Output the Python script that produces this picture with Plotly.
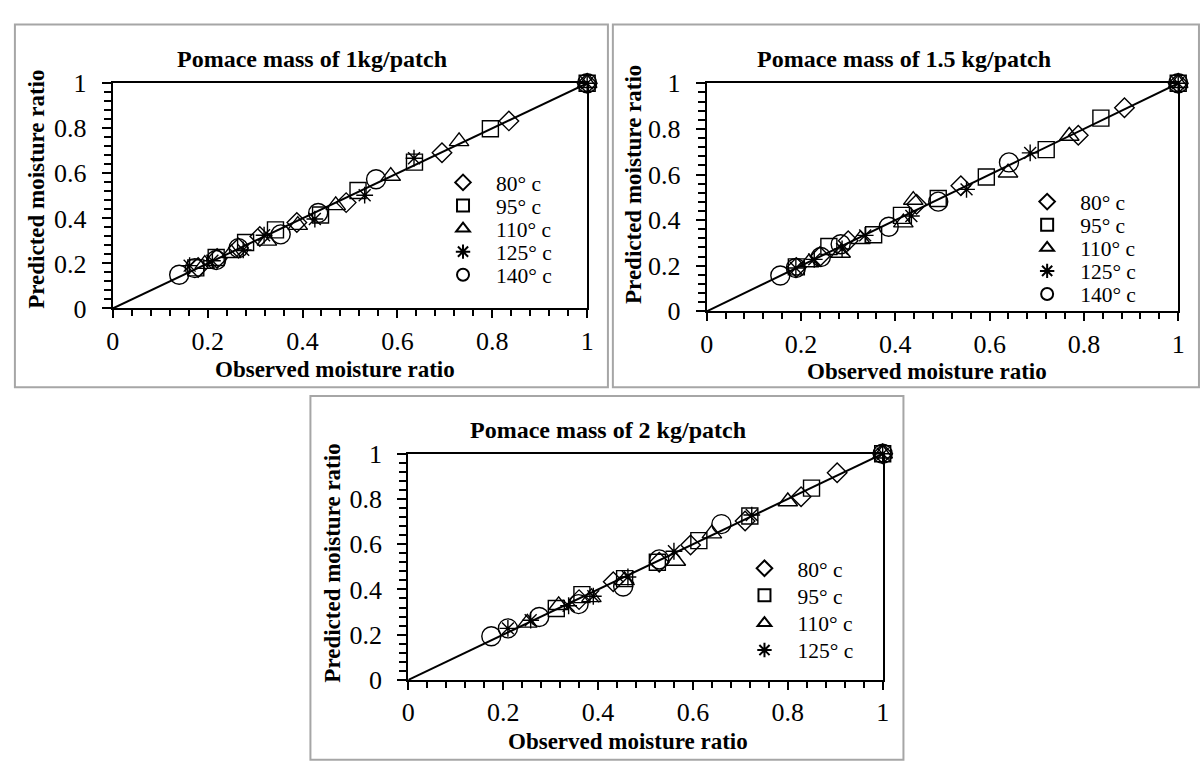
import plotly.graph_objects as go

# ---------------- data ----------------
temps = ["80° c", "95° c", "110° c", "125° c", "140° c"]
panel_titles = ["Pomace mass of 1kg/patch", "Pomace mass of 1.5 kg/patch", "Pomace mass of 2 kg/patch"]
x_title = "Observed moisture ratio"
y_title = "Predicted moisture ratio"
tick_vals = [0, 0.2, 0.4, 0.6, 0.8, 1]
tick_text = ["0", "0.2", "0.4", "0.6", "0.8", "1"]

fit_x = [0, 1]
fit_y = [0, 1]

# 1 kg/patch
obs_1kg_80 = [1.0, 0.835, 0.694, 0.492, 0.388, 0.31, 0.265, 0.22, 0.18]
pred_1kg_80 = [1.0, 0.833, 0.691, 0.47, 0.382, 0.32, 0.268, 0.222, 0.182]
obs_1kg_95 = [1.0, 0.796, 0.636, 0.517, 0.438, 0.343, 0.28, 0.218, 0.175]
pred_1kg_95 = [1.0, 0.798, 0.65, 0.524, 0.415, 0.349, 0.293, 0.226, 0.18]
obs_1kg_110 = [1.0, 0.73, 0.586, 0.47, 0.39, 0.325, 0.25, 0.194]
pred_1kg_110 = [1.0, 0.742, 0.588, 0.458, 0.37, 0.30, 0.245, 0.197]
obs_1kg_125 = [1.0, 0.635, 0.531, 0.426, 0.319, 0.275, 0.21, 0.162]
pred_1kg_125 = [1.0, 0.667, 0.503, 0.397, 0.325, 0.26, 0.212, 0.19]
obs_1kg_140 = [1.0, 0.555, 0.433, 0.354, 0.265, 0.218, 0.173, 0.140]
pred_1kg_140 = [1.0, 0.574, 0.424, 0.329, 0.268, 0.215, 0.179, 0.150]

# 1.5 kg/patch
obs_15kg_80 = [1.0, 0.886, 0.788, 0.539, 0.445, 0.30, 0.24, 0.19]
pred_15kg_80 = [1.0, 0.893, 0.772, 0.551, 0.47, 0.31, 0.24, 0.192]
obs_15kg_95 = [1.0, 0.836, 0.72, 0.593, 0.491, 0.413, 0.354, 0.259, 0.19]
pred_15kg_95 = [1.0, 0.847, 0.709, 0.589, 0.495, 0.421, 0.336, 0.284, 0.195]
obs_15kg_110 = [1.0, 0.769, 0.639, 0.438, 0.417, 0.326, 0.284, 0.217]
pred_15kg_110 = [1.0, 0.769, 0.608, 0.488, 0.389, 0.316, 0.256, 0.214]
obs_15kg_125 = [1.0, 0.686, 0.551, 0.434, 0.336, 0.287, 0.228, 0.189]
pred_15kg_125 = [1.0, 0.695, 0.535, 0.418, 0.333, 0.274, 0.228, 0.19]
obs_15kg_140 = [1.0, 0.641, 0.491, 0.386, 0.284, 0.242, 0.189, 0.156]
pred_15kg_140 = [1.0, 0.653, 0.481, 0.371, 0.294, 0.238, 0.19, 0.157]

# 2 kg/patch
obs_2kg_80 = [1.0, 0.904, 0.828, 0.71, 0.595, 0.529, 0.432, 0.36]
pred_2kg_80 = [1.0, 0.916, 0.81, 0.703, 0.597, 0.52, 0.434, 0.355]
obs_2kg_95 = [1.0, 0.85, 0.72, 0.6125, 0.525, 0.456, 0.366, 0.312]
pred_2kg_95 = [1.0, 0.848, 0.725, 0.616, 0.52, 0.448, 0.377, 0.316]
obs_2kg_110 = [1.0, 0.80, 0.64, 0.564, 0.456, 0.386, 0.317, 0.251]
pred_2kg_110 = [1.0, 0.789, 0.647, 0.526, 0.44, 0.365, 0.33, 0.252]
obs_2kg_125 = [1.0, 0.724, 0.56, 0.463, 0.39, 0.338, 0.258, 0.21]
pred_2kg_125 = [1.0, 0.729, 0.569, 0.455, 0.37, 0.328, 0.264, 0.228]
obs_2kg_140 = [1.0, 0.66, 0.529, 0.453, 0.359, 0.276, 0.21, 0.175]
pred_2kg_140 = [1.0, 0.689, 0.533, 0.413, 0.335, 0.278, 0.228, 0.193]

panel_obs = [
    [obs_1kg_80, obs_1kg_95, obs_1kg_110, obs_1kg_125, obs_1kg_140],
    [obs_15kg_80, obs_15kg_95, obs_15kg_110, obs_15kg_125, obs_15kg_140],
    [obs_2kg_80, obs_2kg_95, obs_2kg_110, obs_2kg_125, obs_2kg_140],
]
panel_pred = [
    [pred_1kg_80, pred_1kg_95, pred_1kg_110, pred_1kg_125, pred_1kg_140],
    [pred_15kg_80, pred_15kg_95, pred_15kg_110, pred_15kg_125, pred_15kg_140],
    [pred_2kg_80, pred_2kg_95, pred_2kg_110, pred_2kg_125, pred_2kg_140],
]
legend_count = [5, 5, 4]  # third panel's legend lists only four entries

# ---------------- style / layout ----------------
W, H = 1203, 769
SERIF = "Liberation Serif"
symbols = ["diamond-open", "square-open", "triangle-up-open", "asterisk-open", "circle-open"]
sizes = [15, 16, 17, 14, 19]

# pixel geometry of each panel
geo = [
    dict(plot=(107, 587, 72, 306), box=(8, 608, 11, 388), title=(309, 47), xt=(332, 369), yt=(29, 182),
         leg_x=461, rows=[175, 199, 223, 247, 271]),
    dict(plot=(708, 1185, 72, 309), box=(613, 1206, 11, 388), title=(908, 47), xt=(931, 371), yt=(634, 177),
         leg_x=1052, rows=[195, 219, 243, 267, 291]),
    dict(plot=(406, 886, 457, 692), box=(307, 907, 397, 775), title=(608, 432), xt=(628, 756), yt=(329, 571),
         leg_x=766, rows=[576, 604, 633, 661]),
]

def fx(px):
    return px / W

def fy(py):
    return 1 - py / H

fig = go.Figure()
layout = dict(
    width=W, height=H, margin=dict(l=0, r=0, t=0, b=0), autosize=False,
    paper_bgcolor="white", plot_bgcolor="white",
    font=dict(family=SERIF, color="black"),
    shapes=[], annotations=[],
)

leg_index = 0
for p, g in enumerate(geo):
    sfx = "" if p == 0 else str(p + 1)
    xa, ya = "x" + sfx, "y" + sfx
    x0, x1, y0, y1 = g["plot"]
    axis_common = dict(
        range=[0, 1], tickvals=tick_vals, ticktext=tick_text,
        showgrid=False, zeroline=False, showline=True, mirror=True,
        linecolor="black", linewidth=2,
        ticks="outside", tickwidth=2, tickcolor="black",
        tickfont=dict(family=SERIF, size=26, color="black"),
        fixedrange=True,
    )
    layout["xaxis" + sfx] = dict(
        axis_common, domain=[fx(x0), fx(x1)], anchor=ya, ticklen=8,
        minor=dict(dtick=0.04, tick0=0, ticks="outside", ticklen=6, tickwidth=2, tickcolor="black", showgrid=False),
    )
    layout["yaxis" + sfx] = dict(
        axis_common, domain=[fy(y1), fy(y0)], anchor=xa, ticklen=9, ticklabelstandoff=10,
        minor=dict(dtick=0.04, tick0=0, ticks="outside", ticklen=7, tickwidth=2, tickcolor="black", showgrid=False),
    )

    # fitted 1:1 line
    fig.add_trace(go.Scatter(x=fit_x, y=fit_y, mode="lines", line=dict(color="black", width=2),
                             xaxis=xa, yaxis=ya, showlegend=False, hoverinfo="skip", cliponaxis=False))

    for s in range(5):
        show = s < legend_count[p]
        lname = None
        if show:
            leg_index += 1
            lname = "legend" if leg_index == 1 else "legend" + str(leg_index)
            layout[lname] = dict(
                x=fx(g["leg_x"] - 33), y=fy(g["rows"][s]), xanchor="left", yanchor="middle",
                bgcolor="rgba(0,0,0,0)", borderwidth=0,
                font=dict(family=SERIF, size=21.5, color="black"),
                itemsizing="constant", itemwidth=56, tracegroupgap=0,
            )
        tr = dict(
            x=panel_obs[p][s], y=panel_pred[p][s], mode="markers", name=temps[s],
            marker=dict(symbol=symbols[s], size=sizes[s], color="black", line=dict(color="black", width=1.4)),
            xaxis=xa, yaxis=ya, showlegend=show, cliponaxis=False,
        )
        if show:
            tr["legend"] = lname
        fig.add_trace(go.Scatter(**tr))

    bx0, bx1, by0, by1 = g["box"]
    layout["shapes"].append(dict(type="rect", xref="paper", yref="paper",
                                 x0=fx(bx0), x1=fx(bx1), y0=fy(by1), y1=fy(by0),
                                 line=dict(color="#a6a6a6", width=2), fillcolor="rgba(0,0,0,0)", layer="below"))
    tx, ty = g["title"]
    layout["annotations"].append(dict(text="<b>" + panel_titles[p] + "</b>", x=fx(tx), y=fy(ty),
                                      xref="paper", yref="paper", showarrow=False,
                                      xanchor="center", yanchor="middle",
                                      font=dict(family=SERIF, size=24, color="black")))
    xtx, xty = g["xt"]
    layout["annotations"].append(dict(text="<b>" + x_title + "</b>", x=fx(xtx), y=fy(xty),
                                      xref="paper", yref="paper", showarrow=False,
                                      xanchor="center", yanchor="middle",
                                      font=dict(family=SERIF, size=23, color="black")))
    ytx, yty = g["yt"]
    layout["annotations"].append(dict(text="<b>" + y_title + "</b>", x=fx(ytx), y=fy(yty),
                                      xref="paper", yref="paper", showarrow=False, textangle=-90,
                                      xanchor="center", yanchor="middle",
                                      font=dict(family=SERIF, size=23, color="black")))

fig.update_layout(**layout)
fig.write_html("out.html")
